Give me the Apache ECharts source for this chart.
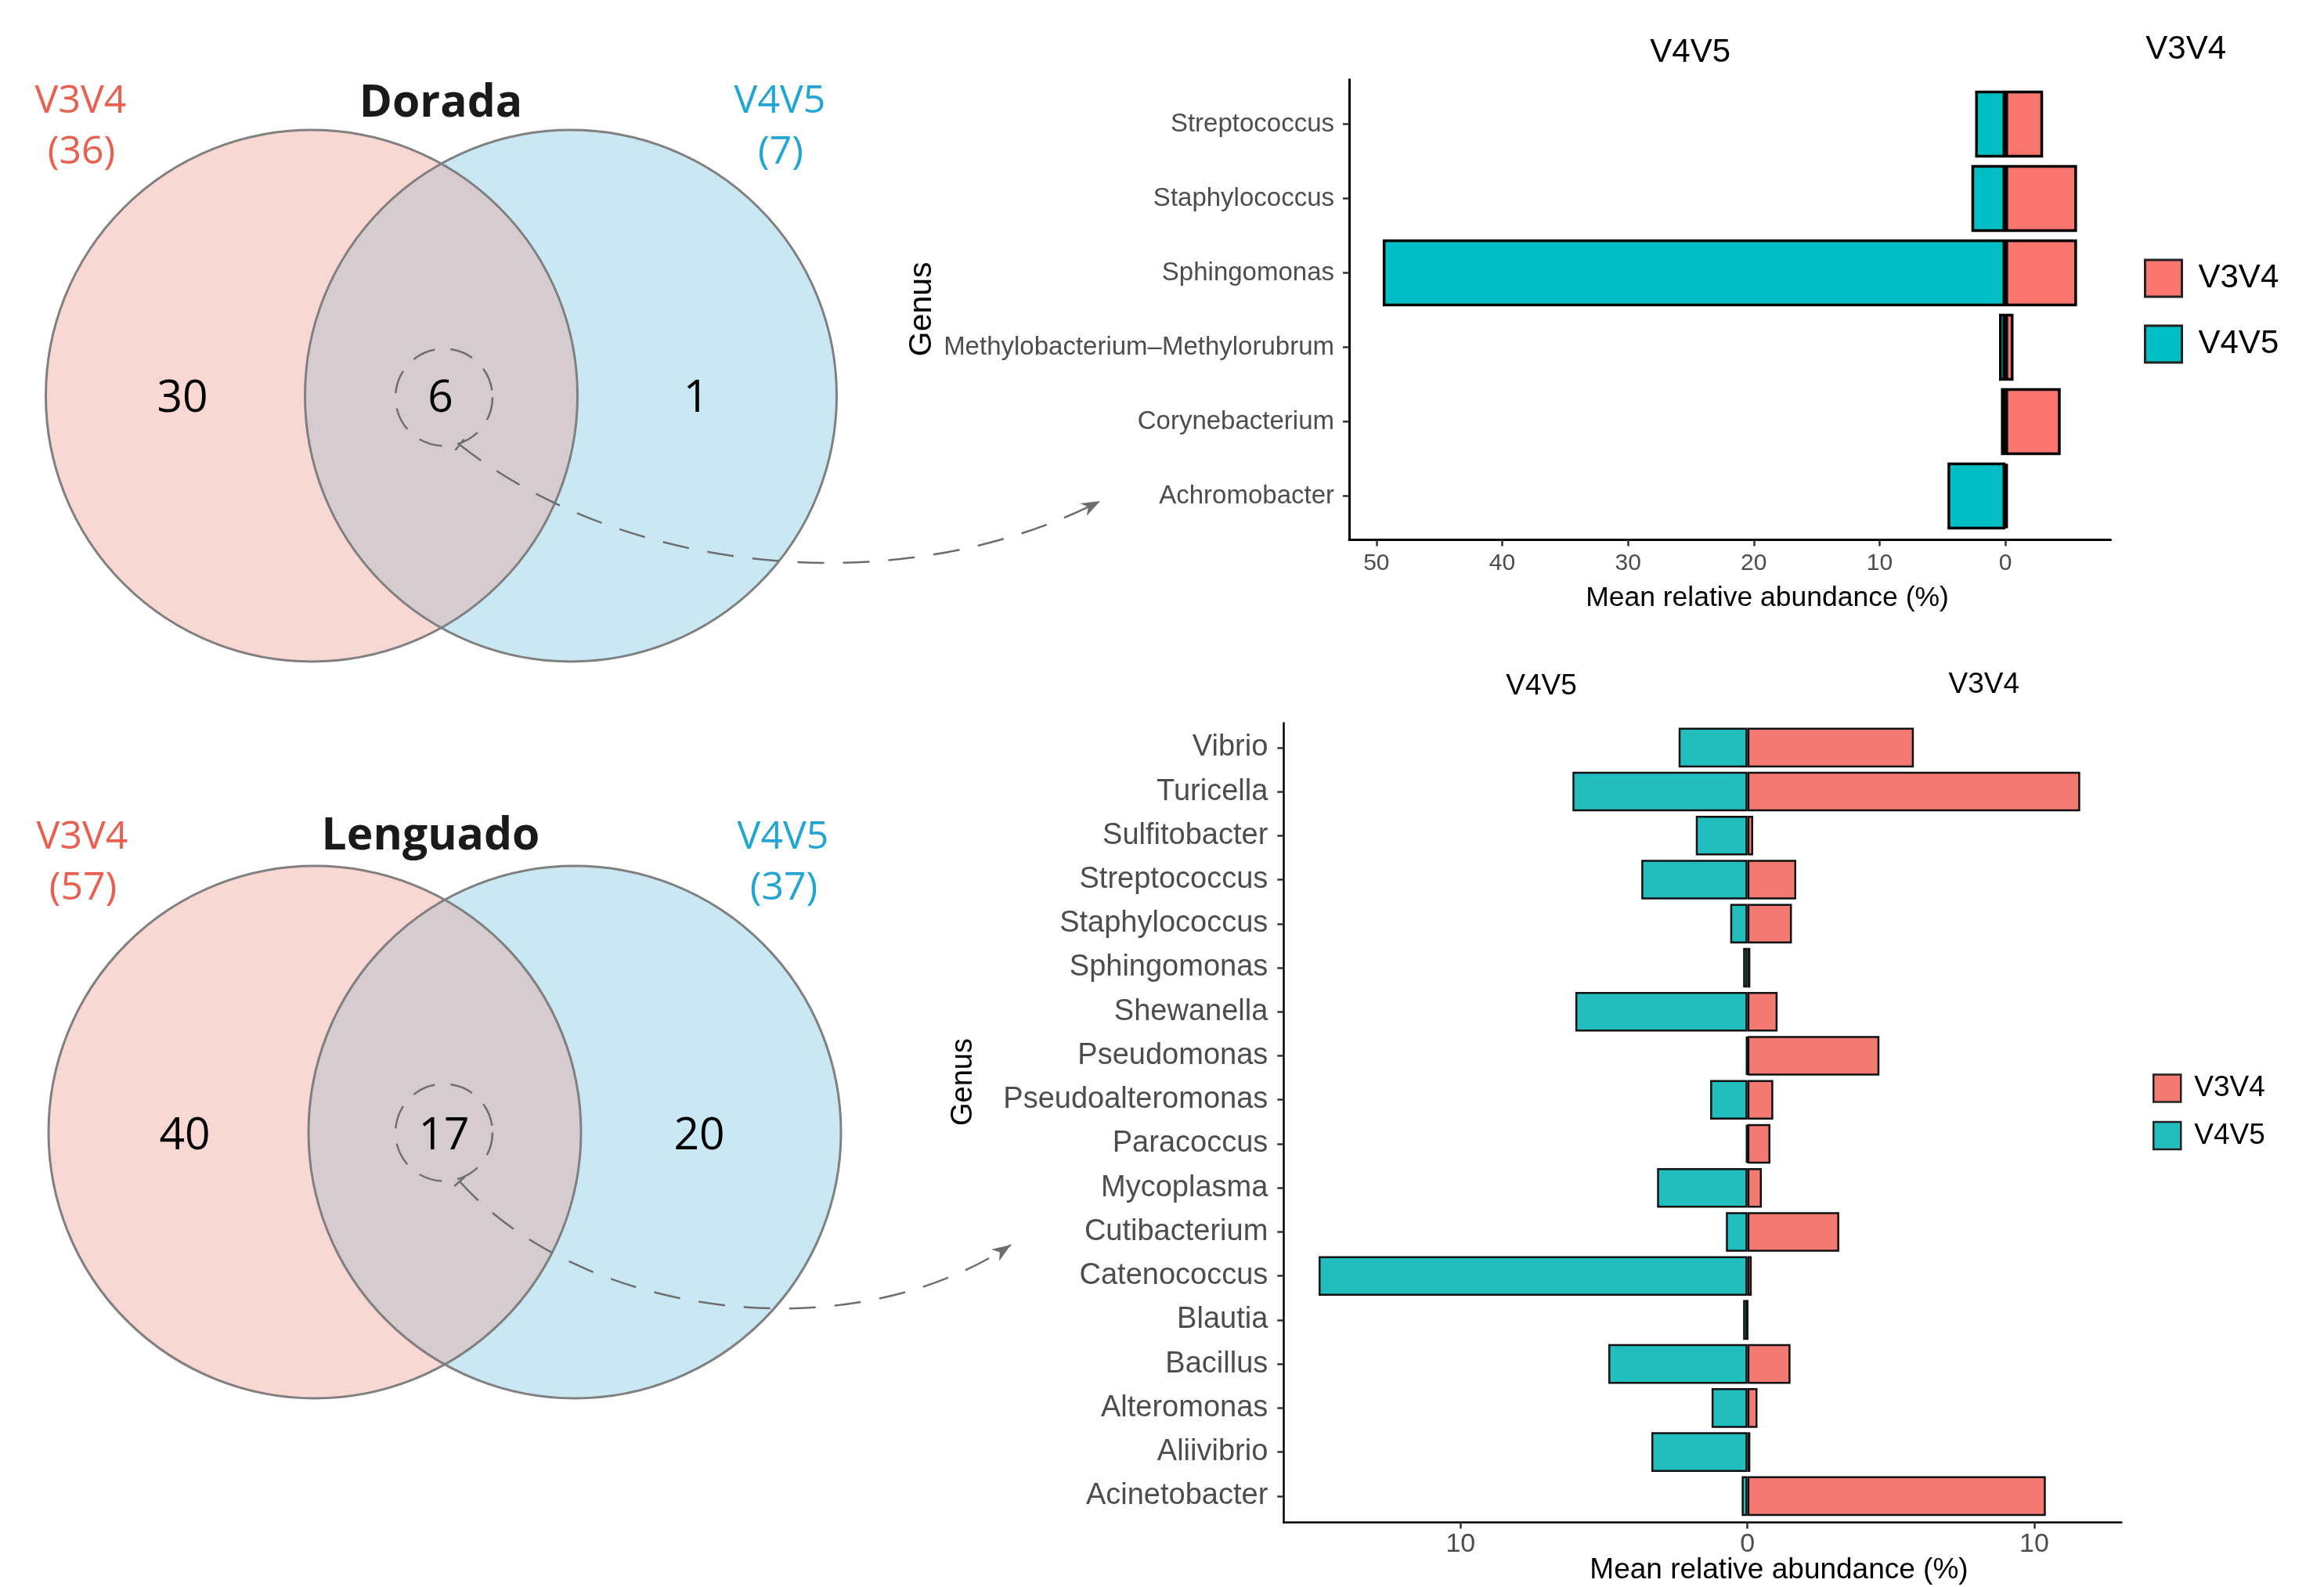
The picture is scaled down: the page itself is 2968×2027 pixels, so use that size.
<!DOCTYPE html>
<html>
<head>
<meta charset="utf-8">
<script src="https://cdn.jsdelivr.net/npm/echarts@6/dist/echarts.min.js"></script>
<style>
  html, body { margin: 0; padding: 0; background: #fff; }
  #chart { width: 2968px; height: 2027px; }
</style>
</head>
<body>
<div id="chart"></div>
<script>
// ---- data ----
const regions = ["V3V4", "V4V5"];

const doradaCounts = [30, 6, 1];      // only V3V4, shared, only V4V5
const doradaTotals = [36, 7];
const lenguadoCounts = [40, 17, 20];
const lenguadoTotals = [57, 37];

const topGenus = ["Streptococcus", "Staphylococcus", "Sphingomonas",
  "Methylobacterium–Methylorubrum", "Corynebacterium", "Achromobacter"];
const topV3V4 = [3.0, 5.7, 5.7, 0.65, 4.4, 0.2];
const topV4V5 = [2.4, 2.7, 49.5, 0.5, 0.35, 4.6];
const topTicks = [-50, -40, -30, -20, -10, 0];

const botGenus = ["Vibrio", "Turicella", "Sulfitobacter", "Streptococcus",
  "Staphylococcus", "Sphingomonas", "Shewanella", "Pseudomonas",
  "Pseudoalteromonas", "Paracoccus", "Mycoplasma", "Cutibacterium",
  "Catenococcus", "Blautia", "Bacillus", "Alteromonas", "Aliivibrio",
  "Acinetobacter"];
const botV3V4 = [5.8, 11.6, 0.2, 1.7, 1.55, 0.1, 1.05, 4.6, 0.9, 0.8,
  0.5, 3.2, 0.15, 0, 1.5, 0.35, 0.1, 10.4];
const botV4V5 = [2.4, 6.1, 1.8, 3.7, 0.6, 0.15, 6.0, 0.05, 1.3, 0.05,
  3.15, 0.75, 14.95, 0.15, 4.85, 1.25, 3.35, 0.2];
const botTicks = [-10, 0, 10];

// ---- venn drawing (graphic elements) ----
const vennFont = "'Open Sans', 'Noto Sans', sans-serif";
const red = "#E8604F", blue = "#22A5D3";

function txt(x, y, s, size, color, weight) {
  return {
    type: "text", x: x, y: y, z: 20,
    style: {
      text: String(s), fill: color, textAlign: "center", textVerticalAlign: "middle",
      font: (weight || "normal") + " " + size + "px " + vennFont
    }
  };
}

function venn(L, counts, totals, title) {
  const els = [];
  const d = L.x2 - L.x1, h = Math.sqrt(L.r * L.r - d * d / 4);
  const a = Math.atan2(h, d / 2);
  const lens = [];
  const n = 120;
  for (let i = 0; i <= n; i++) {
    const t = Math.PI - a + (2 * a * i) / n;
    lens.push([L.x2 + L.r * Math.cos(t), L.cy + L.r * Math.sin(t)]);
  }
  for (let i = 0; i <= n; i++) {
    const t = -a + (2 * a * i) / n;
    lens.push([L.x1 + L.r * Math.cos(t), L.cy + L.r * Math.sin(t)]);
  }
  els.push({ type: "circle", z: 1, shape: { cx: L.x1, cy: L.cy, r: L.r }, style: { fill: "#F9D7D3" } });
  els.push({ type: "circle", z: 2, shape: { cx: L.x2, cy: L.cy, r: L.r }, style: { fill: "#C9E8F3" } });
  els.push({ type: "polygon", z: 3, shape: { points: lens }, style: { fill: "#D6CCD0" } });
  [L.x1, L.x2].forEach(function (cx) {
    els.push({ type: "circle", z: 4, shape: { cx: cx, cy: L.cy, r: L.r },
      style: { fill: null, stroke: "#808080", lineWidth: 3 } });
  });
  els.push(txt(L.titleX, L.titleY, title, 57, "#1a1a1a", "bold"));
  els.push(txt(L.lx, L.ly1, regions[0], 50, red));
  els.push(txt(L.lx + 1, L.ly2, "(" + totals[0] + ")", 50, red));
  els.push(txt(L.rx, L.ly1, regions[1], 50, blue));
  els.push(txt(L.rx + 1, L.ly2, "(" + totals[1] + ")", 50, blue));
  counts.forEach(function (c, i) {
    els.push(txt(L.nx[i], L.ny, c, 57, "#000"));
  });
  // dashed ring round the shared count
  els.push({ type: "circle", z: 6, shape: { cx: L.ring[0], cy: L.ring[1], r: 62 },
    style: { fill: null, stroke: "#6e6e6e", lineWidth: 2.5, lineDash: [30, 20] } });
  // dashed curved arrow to the bar chart
  const c = L.curve;
  els.push({ type: "bezierCurve", z: 6,
    shape: { x1: c[0][0], y1: c[0][1], cpx1: c[1][0], cpy1: c[1][1],
      cpx2: c[2][0], cpy2: c[2][1], x2: c[3][0], y2: c[3][1] },
    style: { fill: null, stroke: "#6e6e6e", lineWidth: 2.5, lineDash: [34, 24] } });
  const dx = c[3][0] - c[2][0], dy = c[3][1] - c[2][1];
  const len = Math.sqrt(dx * dx + dy * dy), ux = dx / len, uy = dy / len;
  const tip = c[3];
  els.push({ type: "polygon", z: 7,
    shape: { points: [tip,
      [tip[0] - 24 * ux - 9 * uy, tip[1] - 24 * uy + 9 * ux],
      [tip[0] - 17 * ux, tip[1] - 17 * uy],
      [tip[0] - 24 * ux + 9 * uy, tip[1] - 24 * uy - 9 * ux]] },
    style: { fill: "#6e6e6e" } });
  // little cap at the start of the curve
  const sx = c[1][0] - c[0][0], sy = c[1][1] - c[0][1];
  const sl = Math.sqrt(sx * sx + sy * sy);
  els.push({ type: "line", z: 7,
    shape: { x1: c[0][0] - 9 * sy / sl, y1: c[0][1] + 9 * sx / sl,
      x2: c[0][0] + 9 * sy / sl, y2: c[0][1] - 9 * sx / sl },
    style: { stroke: "#6e6e6e", lineWidth: 2.5 } });
  return els;
}

const doradaLayout = {
  x1: 398, x2: 729, cy: 505.5, r: 339.5,
  titleX: 563, titleY: 133, lx: 103, rx: 996, ly1: 129.5, ly2: 195,
  nx: [233, 562.5, 889], ny: 510, ring: [567, 507.5],
  curve: [[587, 568], [800, 735], [1150, 770], [1405, 640]]
};
const lenguadoLayout = {
  x1: 402, x2: 734, cy: 1446, r: 340,
  titleX: 550, titleY: 1069, lx: 105, rx: 1000, ly1: 1070, ly2: 1135,
  nx: [236, 567, 893], ny: 1452, ring: [567, 1446.5],
  curve: [[587, 1509], [740, 1680], [1080, 1730], [1291, 1590]]
};

// ---- chart text ----
const chartFont = "'Liberation Sans', Arial, sans-serif";
function ctxt(x, y, s, size, rot) {
  return {
    type: "text", x: x, y: y, rotation: rot || 0, z: 20,
    style: { text: s, fill: "#000", textAlign: "center", textVerticalAlign: "middle",
      font: size + "px " + chartFont }
  };
}

const graphics = []
  .concat(venn(doradaLayout, doradaCounts, doradaTotals, "Dorada"))
  .concat(venn(lenguadoLayout, lenguadoCounts, lenguadoTotals, "Lenguado"))
  .concat([
    ctxt(2158.7, 67, "V4V5", 42),
    ctxt(2791.7, 63.4, "V3V4", 42),
    ctxt(1968.6, 877, "V4V5", 37),
    ctxt(2533.8, 874.4, "V3V4", 37),
    ctxt(1177.8, 394.8, "Genus", 41, Math.PI / 2),
    ctxt(1231, 1382, "Genus", 38, Math.PI / 2),
    ctxt(2257, 764.4, "Mean relative abundance (%)", 35.5),
    ctxt(2272, 2006, "Mean relative abundance (%)", 37)
  ]);

// ---- axes ----
const absFmt = function (v) { return String(Math.abs(v)); };
const topMin = -52.17, topMax = 8.37;
const botMin = -16.17, botMax = 13.04;

function frameX(grid, min, max, ticks, fontSize, margin, lw) {
  return {
    gridIndex: grid, type: "value", min: min, max: max,
    axisLine: { show: true, onZero: false, lineStyle: { color: "#000", width: lw } },
    axisTick: { show: true, customValues: ticks, length: 8, lineStyle: { color: "#333", width: 2.5 } },
    axisLabel: { customValues: ticks, formatter: absFmt, fontSize: fontSize, margin: margin,
      color: "#4d4d4d", fontFamily: chartFont },
    splitLine: { show: false }
  };
}
function frameY(grid, lw) {
  return {
    gridIndex: grid, type: "value", min: 0, max: 1,
    axisLine: { show: true, onZero: false, lineStyle: { color: "#000", width: lw } },
    axisTick: { show: false }, axisLabel: { show: false }, splitLine: { show: false }
  };
}
function catY(grid, names, fontSize, margin) {
  return {
    gridIndex: grid, type: "category", data: names, inverse: true,
    axisLine: { show: false, onZero: false },
    axisTick: { show: true, alignWithLabel: true, length: 8, lineStyle: { color: "#333", width: 2.5 } },
    axisLabel: { fontSize: fontSize, margin: margin, color: "#4d4d4d", fontFamily: chartFont, interval: 0 }
  };
}

function legendFor(top, left, size, font, gap, pad, c1, c2, bw) {
  return {
    orient: "vertical", left: left, top: top, icon: "rect", selectedMode: false,
    itemWidth: size, itemHeight: size, itemGap: gap,
    data: [
      { name: "V3V4", itemStyle: { color: c1, borderColor: "#222", borderWidth: bw } },
      { name: "V4V5", itemStyle: { color: c2, borderColor: "#222", borderWidth: bw } }
    ],
    textStyle: { fontSize: font, color: "#000", fontFamily: chartFont, padding: [0, 0, 0, pad] }
  };
}

const chart = echarts.init(document.getElementById("chart"), null, { renderer: "canvas" });
chart.setOption({
  animation: false,
  backgroundColor: "#fff",
  grid: [
    { left: 1723, width: 972.5, top: 111, height: 570 },
    { left: 1723, width: 972.5, top: 101.5, height: 588 },
    { left: 1639.3, width: 1070.1, top: 926.7, height: 1012.3 },
    { left: 1639.3, width: 1070.1, top: 923.4, height: 1021.2 }
  ],
  xAxis: [
    { gridIndex: 0, type: "value", min: topMin, max: topMax, show: false },
    frameX(1, topMin, topMax, topTicks, 30, 15, 3),
    { gridIndex: 2, type: "value", min: botMin, max: botMax, show: false },
    frameX(3, botMin, botMax, botTicks, 34, 11, 2.5)
  ],
  yAxis: [
    catY(0, topGenus, 33, 19),
    frameY(1, 3),
    catY(2, botGenus, 38, 20),
    frameY(3, 2.5)
  ],
  legend: [
    legendFor(325.5, 2733, 47, 42, 34, 16, "#F8766D", "#00BFC4", 3),
    legendFor(1366.3, 2744, 35, 37, 23, 12, "#F27A72", "#22BDBD", 2.5)
  ],
  series: [
    { name: "V4V5", type: "bar", xAxisIndex: 0, yAxisIndex: 0,
      data: topV4V5.map(function (v) { return -v; }),
      barWidth: "90%", barGap: "-100%",
      itemStyle: { color: "#00BFC4", borderColor: "#000", borderWidth: 3.5 } },
    { name: "V3V4", type: "bar", xAxisIndex: 0, yAxisIndex: 0, data: topV3V4,
      barWidth: "90%", barGap: "-100%",
      itemStyle: { color: "#F8766D", borderColor: "#000", borderWidth: 3.5 } },
    { name: "V4V5", type: "bar", xAxisIndex: 2, yAxisIndex: 2,
      data: botV4V5.map(function (v) { return -v; }),
      barWidth: "90%", barGap: "-100%",
      itemStyle: { color: "#22BDBD", borderColor: "#111", borderWidth: 2.5 } },
    { name: "V3V4", type: "bar", xAxisIndex: 2, yAxisIndex: 2, data: botV3V4,
      barWidth: "90%", barGap: "-100%",
      itemStyle: { color: "#F27A72", borderColor: "#111", borderWidth: 2.5 } }
  ],
  graphic: { elements: graphics }
});
</script>
</body>
</html>
